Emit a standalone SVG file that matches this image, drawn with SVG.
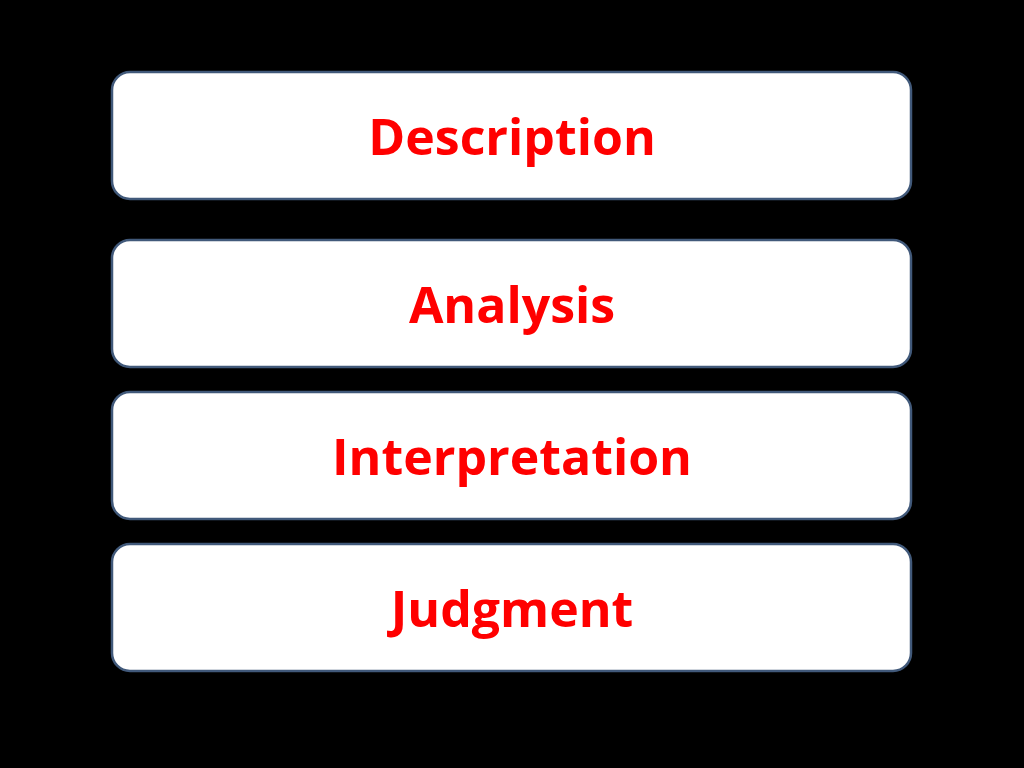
<svg xmlns="http://www.w3.org/2000/svg" width="1024" height="768" viewBox="0 0 1024 768">
<style>
.box{fill:#fff;stroke:#41597a;stroke-width:2.5}
.t{font-family:"Open Sans","Liberation Sans",sans-serif;font-weight:bold;font-size:50px;fill:#f00;text-anchor:middle}
</style>
<rect width="1024" height="768" fill="#000"/>
<g id="n1"><rect class="box" x="112" y="72" width="799" height="127" rx="18"/><text class="t" x="512" y="155">Description</text></g>
<g id="n2"><rect class="box" x="112" y="240" width="799" height="127" rx="18"/><text class="t" x="512" y="323">Analysis</text></g>
<g id="n3"><rect class="box" x="112" y="392" width="799" height="127" rx="18"/><text class="t" x="512" y="475">Interpretation</text></g>
<g id="n4"><rect class="box" x="112" y="544" width="799" height="127" rx="18"/><text class="t" x="512" y="627">Judgment</text></g>
<g id="connectors"/>
</svg>
